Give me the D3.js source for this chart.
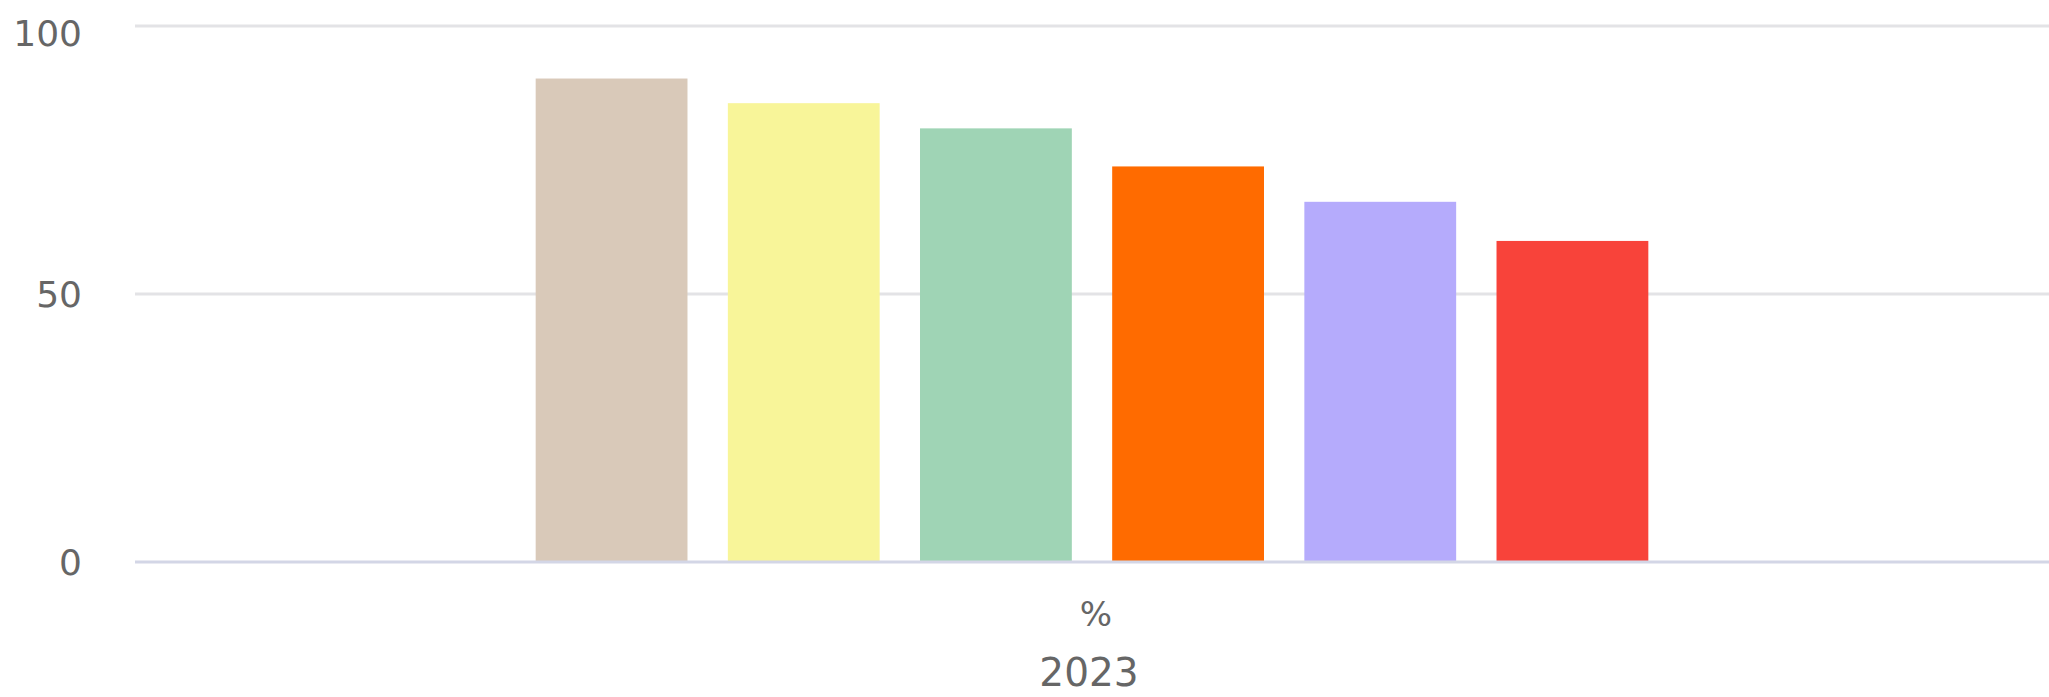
<!DOCTYPE html>
<html>
<head>
<meta charset="utf-8">
<script src="https://cdn.jsdelivr.net/npm/d3@7"></script>
<style>
  html, body { margin: 0; padding: 0; background: #fff; }
  svg { display: block; }
  text { font-family: "DejaVu Sans", Verdana, sans-serif; fill: #666; }
</style>
</head>
<body>
<svg id="chart" width="2049" height="697"></svg>
<script>
const categories = ["2023"];
const categoryUnit = "%";
const seriesNames = ["S1", "S2", "S3", "S4", "S5", "S6"];
const seriesValues = [90.2, 85.6, 80.9, 73.8, 67.2, 59.9];
const seriesColors = ["#D9C9B9", "#F8F599", "#9FD4B5", "#FF6B00", "#B5ABFC", "#F8433A"];
const yTicks = [0, 50, 100];

const W = 2049, H = 697;
const plot = { left: 135, right: 2049, top: 26, bottom: 562 };

const svg = d3.select("#chart");

const y = d3.scaleLinear().domain([0, 100]).range([plot.bottom, plot.top]);
const x0 = d3.scaleBand().domain(categories).range([plot.left, plot.right])
  .paddingInner(0).paddingOuter(0.33);
const x1 = d3.scaleBand().domain(seriesNames).range([0, x0.bandwidth()])
  .paddingInner(0.21).paddingOuter(0.105);

// gridlines
svg.append("g").selectAll("line").data(yTicks.filter(d => d !== 0)).join("line")
  .attr("x1", plot.left).attr("x2", plot.right)
  .attr("y1", d => y(d)).attr("y2", d => y(d))
  .attr("stroke", "#e3e3e6").attr("stroke-width", 3);

// y tick labels
svg.append("g").selectAll("text").data(yTicks).join("text")
  .attr("x", 82)
  .attr("y", d => Math.max(y(d) + 13, 46))
  .attr("text-anchor", "end")
  .attr("font-size", 36)
  .text(d => d);

// bars
const g = svg.append("g");
categories.forEach(cat => {
  g.selectAll("rect.c" + cat).data(seriesValues.map((v, i) => ({ v, i }))).join("rect")
    .attr("x", d => x0(cat) + x1(seriesNames[d.i]))
    .attr("width", x1.bandwidth())
    .attr("y", d => y(d.v))
    .attr("height", d => y(0) - y(d.v))
    .attr("fill", d => seriesColors[d.i]);
});

// x axis line
svg.append("line")
  .attr("x1", plot.left).attr("x2", plot.right)
  .attr("y1", y(0)).attr("y2", y(0))
  .attr("stroke", "#d3d6e6").attr("stroke-width", 3);

// category labels
categories.forEach(cat => {
  const cx = x0(cat) + x0.bandwidth() / 2;
  svg.append("text")
    .attr("x", cx + 4).attr("y", 626)
    .attr("text-anchor", "middle").attr("font-size", 34)
    .text(categoryUnit);
  svg.append("text")
    .attr("x", cx - 3).attr("y", 686)
    .attr("text-anchor", "middle").attr("font-size", 39)
    .text(cat);
});
</script>
</body>
</html>
